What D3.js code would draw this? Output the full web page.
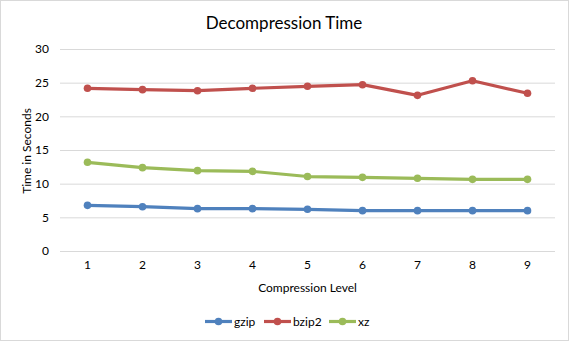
<!DOCTYPE html>
<html>
<head>
<meta charset="utf-8">
<script src="https://cdn.jsdelivr.net/npm/d3@7"></script>
<style>
  html, body { margin: 0; padding: 0; background: #fff; }
  svg { display: block; font-family: Lato, "Open Sans", sans-serif; }
</style>
</head>
<body>
<svg id="chart" width="569" height="341"></svg>
<script>
const categories = ["1", "2", "3", "4", "5", "6", "7", "8", "9"];
const gzip  = [6.78, 6.58, 6.29, 6.29, 6.19, 5.99, 5.99, 5.99, 5.99];
const bzip2 = [24.16, 23.96, 23.81, 24.16, 24.46, 24.7, 23.12, 25.29, 23.42];
const xz    = [13.17, 12.38, 11.93, 11.83, 11.06, 10.94, 10.8, 10.64, 10.64];
const yTicks = [0, 5, 10, 15, 20, 25, 30];
const seriesNames = ["gzip", "bzip2", "xz"];
const seriesColors = ["#4F81BD", "#C0504D", "#9BBB59"];
const title = "Decompression Time";
const xTitle = "Compression Level";
const yTitle = "Time in Seconds";

const series = [gzip, bzip2, xz].map((v, i) => ({ name: seriesNames[i], color: seriesColors[i], values: v }));

const svg = d3.select("#chart");
const W = 569, H = 341;
const m = { left: 60, right: 14, top: 49, bottom: 90 };

svg.append("rect").attr("x", 0.5).attr("y", 0.5).attr("width", W - 1).attr("height", H - 1)
  .attr("fill", "#fff").attr("stroke", "#d9d9d9");

const x = d3.scaleBand().domain(categories).range([m.left, W - m.right]);
const y = d3.scaleLinear().domain([0, 30]).range([H - m.bottom, m.top]);

// gridlines + y axis
const yAxis = d3.axisLeft(y).tickValues(yTicks).tickSize(-(W - m.right - m.left)).tickPadding(11);
const gy = svg.append("g").attr("transform", `translate(${m.left},0)`).call(yAxis);
gy.select(".domain").remove();
gy.selectAll(".tick line").attr("stroke", "#d9d9d9").attr("stroke-width", 1);
gy.selectAll(".tick text").attr("fill", "#000").style("font-size", "12px").style("font-family", "Lato, sans-serif");

// x axis labels
const xAxis = d3.axisBottom(x).tickSize(0).tickPadding(9);
const gx = svg.append("g").attr("transform", `translate(0,${H - m.bottom})`).call(xAxis);
gx.select(".domain").remove();
gx.selectAll(".tick text").attr("fill", "#000").style("font-size", "12px").style("font-family", "Lato, sans-serif");

// title
svg.append("text").attr("x", 284).attr("y", 28.5).attr("text-anchor", "middle")
  .style("font-size", "17px").attr("fill", "#000").text(title);

// axis titles
svg.append("text").attr("x", (m.left + W - m.right) / 2).attr("y", 291.5).attr("text-anchor", "middle")
  .style("font-size", "12px").attr("fill", "#000").text(xTitle);
svg.append("text").attr("transform", `translate(31,${(m.top + H - m.bottom) / 2 + 1}) rotate(-90)`)
  .attr("text-anchor", "middle").style("font-size", "12px").attr("fill", "#000").text(yTitle);

// lines
const line = d3.line().x((d, i) => x(categories[i]) + x.bandwidth() / 2).y(d => y(d));
series.forEach(s => {
  svg.append("path").datum(s.values).attr("d", line).attr("fill", "none")
    .attr("stroke", s.color).attr("stroke-width", 3.2).attr("stroke-linejoin", "round").attr("stroke-linecap", "round");
  svg.append("g").selectAll("circle").data(s.values).join("circle")
    .attr("cx", (d, i) => x(categories[i]) + x.bandwidth() / 2)
    .attr("cy", d => y(d)).attr("r", 3.8).attr("fill", s.color);
});

// legend
const legendX = [205, 264, 329];
const ly = 321.5;
series.forEach((s, i) => {
  const g = svg.append("g").attr("transform", `translate(${legendX[i]},${ly})`);
  g.append("line").attr("x1", 0).attr("x2", 27).attr("y1", 0).attr("y2", 0)
    .attr("stroke", s.color).attr("stroke-width", 3.2);
  g.append("circle").attr("cx", 13.5).attr("cy", 0).attr("r", 3.8).attr("fill", s.color);
  g.append("text").attr("x", 29).attr("y", 0).attr("dy", "0.35em")
    .style("font-size", "12px").attr("fill", "#000").text(s.name);
});
</script>
</body>
</html>
